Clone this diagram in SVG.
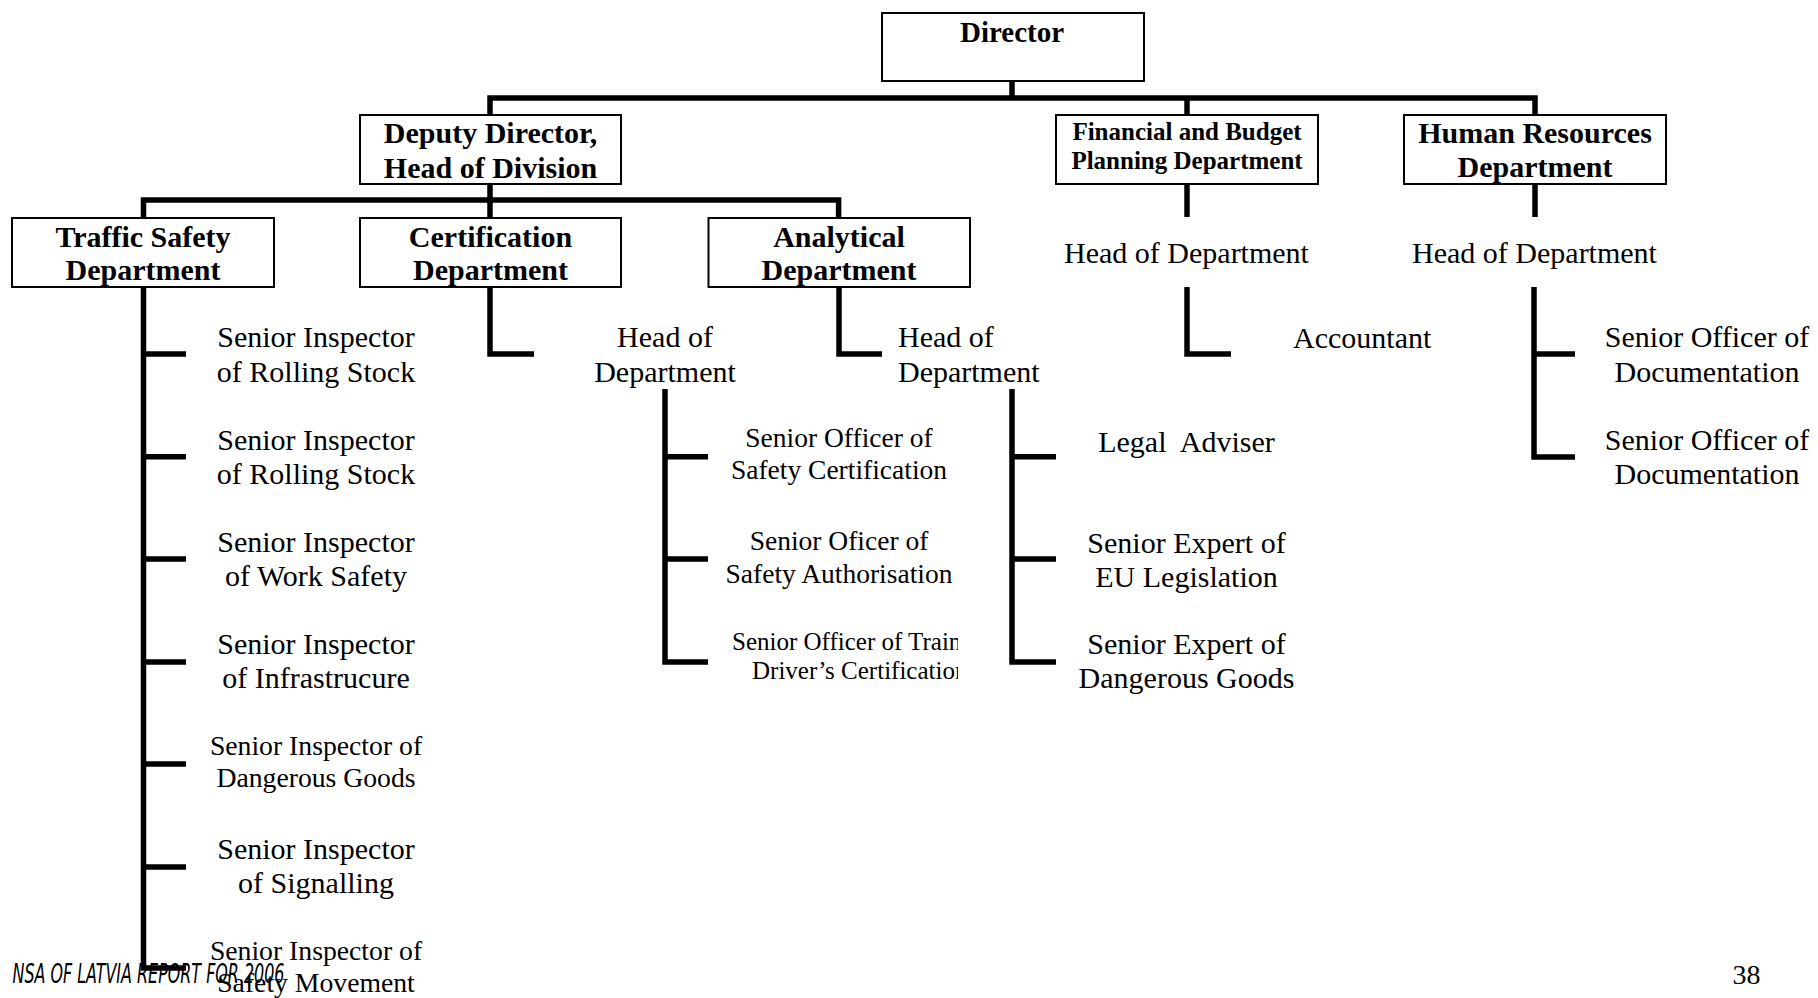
<svg xmlns="http://www.w3.org/2000/svg" width="1818" height="998" viewBox="0 0 1818 998">
<style>
.box{fill:#fff;stroke:#000;stroke-width:2}
.b{font-family:"Liberation Serif","Times New Roman",serif;font-weight:bold;font-size:30px;text-anchor:middle;fill:#000}
.bs{font-size:25px}
.t{font-family:"Liberation Serif","Times New Roman",serif;font-size:30px;text-anchor:middle;fill:#000}
.s28{font-size:27.7px}
.s27{font-size:27.5px}
.s25{font-size:25px;text-anchor:start}
.l{text-anchor:start}
.c{fill:none;stroke:#000;stroke-width:5.5;stroke-linejoin:miter;stroke-linecap:butt}
.foot{font-family:"DejaVu Sans Condensed","DejaVu Sans",sans-serif;font-stretch:condensed;font-style:italic;font-size:26px;fill:#000}
</style>
<defs>
<clipPath id="clipTrain"><rect x="700" y="620" width="258" height="80"/></clipPath>
</defs>
<rect width="1818" height="998" fill="#fff"/>
<g id="connectors">
<path class="c" d="M1012,81 V98"/>
<path class="c" d="M490,115 V98 H1535 V115"/>
<path class="c" d="M1187,98 V115"/>
<path class="c" d="M490,184 V200"/>
<path class="c" d="M143.5,218 V200 H838.6 V218"/>
<path class="c" d="M490,200 V218"/>
<path class="c" d="M143.5,287 V968 H186"/>
<path class="c" d="M143.5,354 H186 M143.5,456.7 H186 M143.5,559 H186 M143.5,662 H186 M143.5,764 H186 M143.5,867 H186"/>
<path class="c" d="M490,287 V354 H534"/>
<path class="c" d="M839,287 V354 H882"/>
<path class="c" d="M665,389 V662 H708"/>
<path class="c" d="M665,456.7 H708 M665,559 H708"/>
<path class="c" d="M1012,389 V662 H1056"/>
<path class="c" d="M1012,456.7 H1056 M1012,559 H1056"/>
<path class="c" d="M1187,184 V217"/>
<path class="c" d="M1187,287 V354 H1231"/>
<path class="c" d="M1535,184 V217"/>
<path class="c" d="M1534,287 V457 H1575"/>
<path class="c" d="M1534,354 H1575"/>
</g>
<g id="director">
<rect class="box" x="882" y="13" width="262" height="68"/>
<text class="b" x="1012" y="42" style="font-size:29px">Director</text>
</g>
<g id="deputy">
<rect class="box" x="360" y="115" width="261" height="69"/>
<text class="b" x="490.5" y="143">Deputy Director,</text>
<text class="b" x="490.5" y="178">Head of Division</text>
</g>
<g id="financial">
<rect class="box" x="1056" y="115" width="262" height="69"/>
<text class="b bs" x="1187" y="139.5">Financial and Budget</text>
<text class="b bs" x="1187" y="168.5">Planning Department</text>
</g>
<g id="hr">
<rect class="box" x="1404" y="115" width="262" height="69"/>
<text class="b" x="1535" y="143">Human Resources</text>
<text class="b" x="1535" y="177">Department</text>
</g>
<g id="traffic">
<rect class="box" x="12" y="218" width="262" height="69"/>
<text class="b" x="143" y="246.5">Traffic Safety</text>
<text class="b" x="143" y="280">Department</text>
</g>
<g id="certification">
<rect class="box" x="360" y="218" width="261" height="69"/>
<text class="b" x="490.5" y="246.5">Certification</text>
<text class="b" x="490.5" y="280">Department</text>
</g>
<g id="analytical">
<rect class="box" x="708.5" y="218" width="261.5" height="69"/>
<text class="b" x="839" y="246.5">Analytical</text>
<text class="b" x="839" y="280">Department</text>
</g>
<g id="traffic-staff">
<text class="t" x="316" y="347">Senior Inspector</text>
<text class="t" x="316" y="382">of Rolling Stock</text>
<text class="t" x="316" y="449.5">Senior Inspector</text>
<text class="t" x="316" y="484">of Rolling Stock</text>
<text class="t" x="316" y="552">Senior Inspector</text>
<text class="t" x="316" y="586">of Work Safety</text>
<text class="t" x="316" y="654">Senior Inspector</text>
<text class="t" x="316" y="688">of Infrastrucure</text>
<text class="t s28" x="316" y="755">Senior Inspector of</text>
<text class="t s28" x="316" y="787">Dangerous Goods</text>
<text class="t" x="316" y="859">Senior Inspector</text>
<text class="t" x="316" y="893">of Signalling</text>
<text class="t s28" x="316" y="960">Senior Inspector of</text>
<text class="t s28" x="316" y="992">Safety Movement</text>
</g>
<g id="cert-head">
<text class="t" x="665" y="347">Head of</text>
<text class="t" x="665" y="382">Department</text>
</g>
<g id="cert-staff">
<text class="t s27" x="839" y="447">Senior Officer of</text>
<text class="t s27" x="839" y="479">Safety Certification</text>
<text class="t s27" x="839" y="550">Senior Oficer of</text>
<text class="t s27" x="839" y="583">Safety Authorisation</text>
<g clip-path="url(#clipTrain)">
<text class="t s25" x="732" y="650">Senior Officer of Train</text>
<text class="t s25" x="752" y="679">Driver’s Certification</text>
</g>
</g>
<g id="analytical-head">
<text class="t l" x="898" y="347">Head of</text>
<text class="t l" x="898" y="382">Department</text>
</g>
<g id="analytical-staff">
<text class="t" x="1186.5" y="452" xml:space="preserve">Legal  Adviser</text>
<text class="t" x="1186.5" y="553">Senior Expert of</text>
<text class="t" x="1186.5" y="587">EU Legislation</text>
<text class="t" x="1186.5" y="654">Senior Expert of</text>
<text class="t" x="1186.5" y="688">Dangerous Goods</text>
</g>
<g id="financial-head">
<text class="t" x="1186.5" y="263">Head of Department</text>
</g>
<g id="accountant">
<text class="t l" x="1293" y="348">Accountant</text>
</g>
<g id="hr-head">
<text class="t" x="1534.5" y="263">Head of Department</text>
</g>
<g id="hr-staff">
<text class="t" x="1707" y="347">Senior Officer of</text>
<text class="t" x="1707" y="382">Documentation</text>
<text class="t" x="1707" y="450">Senior Officer of</text>
<text class="t" x="1707" y="484">Documentation</text>
</g>
<g id="footer">
<text class="foot" x="12.5" y="982.5" textLength="272" lengthAdjust="spacingAndGlyphs">NSA OF LATVIA REPORT FOR 2006</text>
<text class="t l" x="1732.5" y="984" style="font-size:28px">38</text>
</g>
</svg>
